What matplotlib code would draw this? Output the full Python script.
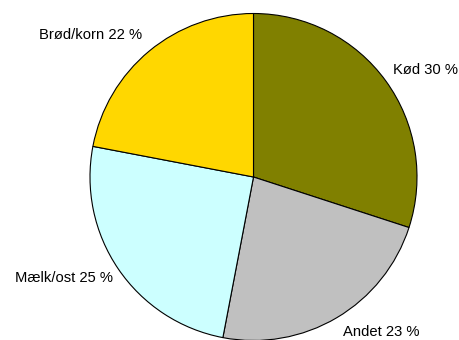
import matplotlib
matplotlib.use("Agg")
import matplotlib.pyplot as plt

labels = ["Kød", "Andet", "Mælk/ost", "Brød/korn"]
shares = [30, 23, 25, 22]
colors = ["#808000", "#C0C0C0", "#CCFFFF", "#FFD700"]

plt.rcParams['font.family'] = ['Liberation Sans', 'DejaVu Sans']

fig = plt.figure(figsize=(4.6, 3.4), dpi=100)
# square axes in pixels: center (253.5, 163) from bottom-left, radius 163.5
ax = fig.add_axes([90 / 460, -0.5 / 340, 327 / 460, 327 / 340])

texts = ["{} {} %".format(l, v) for l, v in zip(labels, shares)]
wedges, label_texts = ax.pie(shares, labels=texts, colors=colors, startangle=90,
                             counterclock=False, labeldistance=1.1,
                             wedgeprops=dict(edgecolor="black", linewidth=0.8),
                             textprops=dict(fontsize=10.6, color="black"))

# nudge labels a little (offsets in pixels, radius = 163.5 px)
nudges = [(-6, 1), (-2, 0), (8, 0), (3, 3)]
for t, (dx, dy) in zip(label_texts, nudges):
    x, y = t.get_position()
    t.set_position((x + dx / 163.5, y + dy / 163.5))

ax.set_xlim(-1, 1)
ax.set_ylim(-1, 1)
ax.set_aspect("equal")
ax.axis("off")

fig.savefig("out.png", dpi=100)
